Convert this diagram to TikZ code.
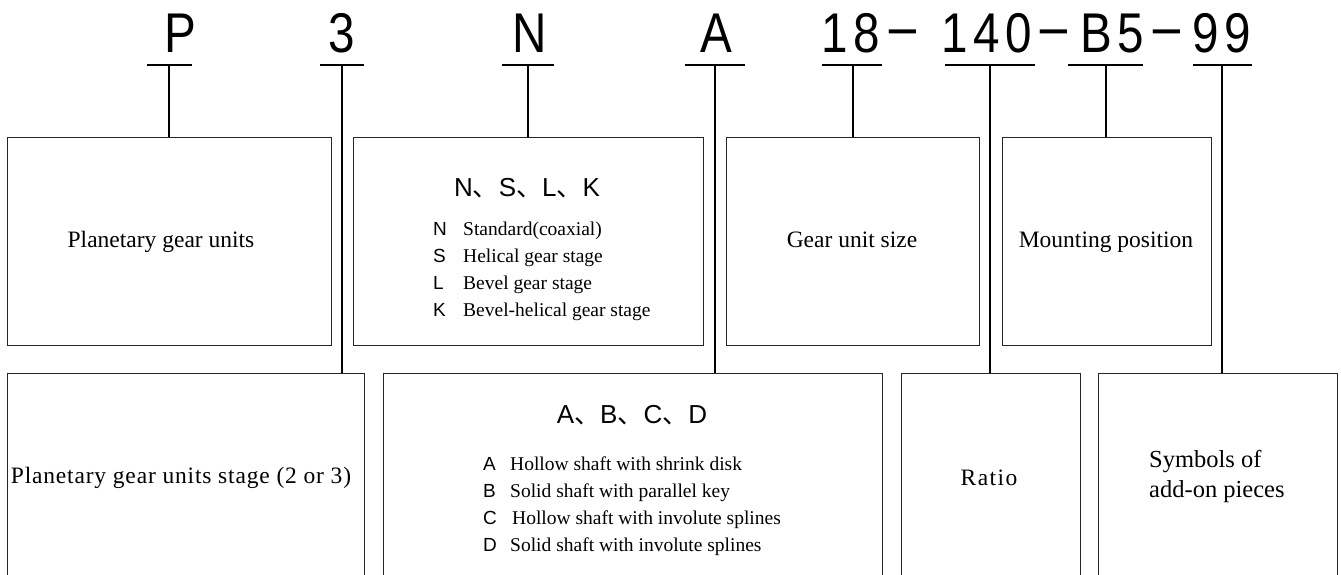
\documentclass[tikz,border=0pt]{standalone}
\usepackage{fontspec}
\setmainfont{Liberation Serif}
\newfontfamily\hdr{Liberation Sans}
\newfontfamily\hdrn[FakeStretch=0.85,LetterSpace=10]{Liberation Sans}
\newfontfamily\cjk{Noto Sans CJK SC}
\begin{document}
\begin{tikzpicture}[x=1pt,y=-1pt,
  hdrtxt/.style={font=\hdrn\fontsize{56}{60}\selectfont, inner sep=0, anchor=base},
  dashtxt/.style={font=\hdr\fontsize{56}{60}\selectfont, inner sep=0, anchor=base},
  box/.style={draw=black!85, line width=1.4pt, inner sep=0, anchor=north west},
  lbl/.style={font=\fontsize{23.5}{28}\selectfont, inner sep=0, anchor=base},
  codeltr/.style={font=\hdr\fontsize{19}{22}\selectfont, inner sep=0, anchor=base west},
  itemtxt/.style={font=\fontsize{19.5}{22}\selectfont, inner sep=0, anchor=base west},
  ttl/.style={font=\hdr\fontsize{26}{30}\selectfont, inner sep=0, anchor=base},
  conn/.style={line width=2pt, black},
  uline/.style={line width=2pt, black}]
\useasboundingbox (0,0) rectangle (1341,575);
\fill[white] (0,0) rectangle (1341,575);
\clip (0,0) rectangle (1341,575);

% boxes, top row
\node[box, minimum width=324, minimum height=208] (b1) at (7,137) {};
\node[box, minimum width=350, minimum height=208] (bN) at (353,137) {};
\node[box, minimum width=253, minimum height=208] (b18) at (726,137) {};
\node[box, minimum width=209, minimum height=208] (bB5) at (1002,137) {};
% boxes, bottom row (run past the lower edge)
\node[box, minimum width=357, minimum height=220] (b3) at (7,373) {};
\node[box, minimum width=499, minimum height=220] (bA) at (383,373) {};
\node[box, minimum width=179, minimum height=220] (bR) at (901,373) {};
\node[box, minimum width=239, minimum height=220] (bS) at (1098,373) {};

% header code
\node[hdrtxt] (hP) at (180,53) {P};
\node[hdrtxt] (h3) at (342,53) {3};
\node[hdrtxt] (hN) at (530,53) {N};
\node[hdrtxt] (hA) at (716,53) {A};
\node[hdrtxt] (h18) at (851,53) {18};
\node[dashtxt] (d1) at (902.5,53) {\raisebox{2pt}{−}};
\node[hdrtxt] (h140) at (986.5,53) {140};
\node[dashtxt] (d2) at (1053.5,53) {\raisebox{2pt}{−}};
\node[hdrtxt] (hB5) at (1112.5,53) {B5};
\node[dashtxt] (d3) at (1166.5,53) {\raisebox{2pt}{−}};
\node[hdrtxt] (h99) at (1222,53) {99};

% underline points
\coordinate (uP) at (169,65);
\coordinate (u3) at (342,65);
\coordinate (uN) at (528,65);
\coordinate (uA) at (715,65);
\coordinate (u18) at (853,65);
\coordinate (u140) at (990,65);
\coordinate (uB5) at (1106,65);
\coordinate (u99) at (1222,65);

\draw[uline] ([xshift=-22.5pt]uP) -- ([xshift=22.5pt]uP);
\draw[uline] ([xshift=-22pt]u3) -- ([xshift=22pt]u3);
\draw[uline] ([xshift=-26pt]uN) -- ([xshift=26pt]uN);
\draw[uline] ([xshift=-30pt]uA) -- ([xshift=30pt]uA);
\draw[uline] ([xshift=-31pt]u18) -- ([xshift=29pt]u18);
\draw[uline] ([xshift=-45pt]u140) -- ([xshift=45pt]u140);
\draw[uline] ([xshift=-38pt]uB5) -- ([xshift=37pt]uB5);
\draw[uline] ([xshift=-29pt]u99) -- ([xshift=30pt]u99);

% connectors
\draw[conn] (uP) -- (uP |- b1.north);
\draw[conn] (u3) -- (u3 |- b3.north);
\draw[conn] (uN) -- (uN |- bN.north);
\draw[conn] (uA) -- (uA |- bA.north);
\draw[conn] (u18) -- (u18 |- b18.north);
\draw[conn] (u140) -- (u140 |- bR.north);
\draw[conn] (uB5) -- (uB5 |- bB5.north);
\draw[conn] (u99) -- (u99 |- bS.north);

% top row texts
\node[lbl] (t1) at (161,247) {Planetary gear units};
\node[lbl] (t18) at (852,247) {Gear unit size};
\node[lbl] (tB5) at (1106,247) {Mounting position};

% N box
\node[ttl] (tN) at (527,196) {N{\cjk 、}S{\cjk 、}L{\cjk 、}K};
\node[codeltr] (nl1) at (433,235) {N};
\node[itemtxt] (nt1) at (463,235) {Standard(coaxial)};
\node[codeltr] (nl2) at (433,262) {S};
\node[itemtxt] (nt2) at (463,262) {Helical gear stage};
\node[codeltr] (nl3) at (433,289) {L};
\node[itemtxt] (nt3) at (463,289) {Bevel gear stage};
\node[codeltr] (nl4) at (433,316) {K};
\node[itemtxt] (nt4) at (463,316) {Bevel-helical gear stage};

% bottom row texts
\node[lbl, font=\addfontfeature{LetterSpace=3.5}\fontsize{23.5}{28}\selectfont] (t3) at (181,483) {Planetary gear units stage (2 or 3)};
\node[lbl, font=\addfontfeature{LetterSpace=6}\fontsize{23.5}{28}\selectfont] (tR) at (989,485) {Ratio};
\node[lbl, font=\fontsize{24.5}{28}\selectfont, anchor=base west] (tS1) at (1149,467) {Symbols of};
\node[lbl, font=\fontsize{24.5}{28}\selectfont, anchor=base west] (tS2) at (1149,497) {add-on pieces};

% A box
\node[ttl] (tA) at (632,423) {A{\cjk 、}B{\cjk 、}C{\cjk 、}D};
\node[codeltr] (al1) at (483,470) {A};
\node[itemtxt] (at1) at (510,470) {Hollow shaft with shrink disk};
\node[codeltr] (al2) at (483,497) {B};
\node[itemtxt] (at2) at (510,497) {Solid shaft with parallel key};
\node[codeltr] (al3) at (483,524) {C};
\node[itemtxt] (at3) at (512,524) {Hollow shaft with involute splines};
\node[codeltr] (al4) at (483,551) {D};
\node[itemtxt] (at4) at (510,551) {Solid shaft with involute splines};
\end{tikzpicture}
\end{document}
